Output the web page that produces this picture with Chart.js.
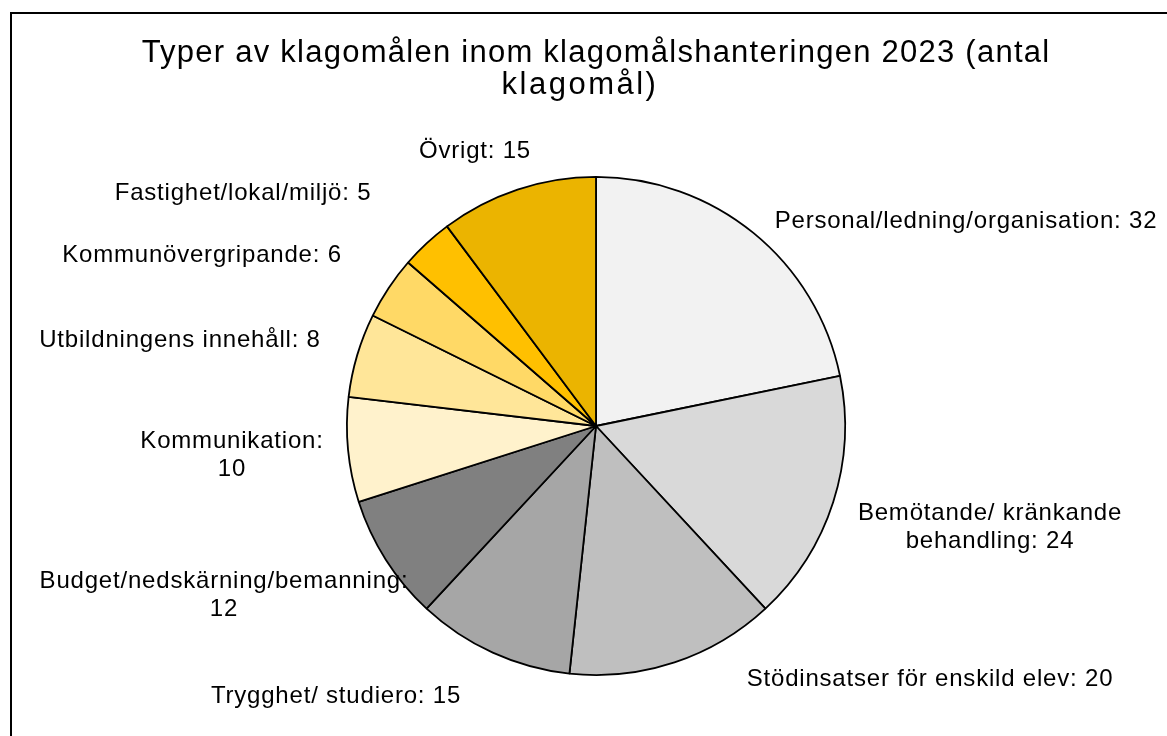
<!DOCTYPE html>
<html>
<head>
<meta charset="utf-8">
<script src="https://cdn.jsdelivr.net/npm/chart.js@4.4.1/dist/chart.umd.min.js"></script>
<style>
html,body{margin:0;padding:0;background:#fff;}
canvas{display:block;}
</style>
</head>
<body>
<canvas id="c" width="1167" height="736"></canvas>
<script>
// ---- data ----
const categories = [
  "Personal/ledning/organisation",
  "Bemötande/ kränkande behandling",
  "Stödinsatser för enskild elev",
  "Trygghet/ studiero",
  "Budget/nedskärning/bemanning",
  "Kommunikation",
  "Utbildningens innehåll",
  "Kommunövergripande",
  "Fastighet/lokal/miljö",
  "Övrigt"
];
const values = [32, 24, 20, 15, 12, 10, 8, 6, 5, 15];
const titleLines = ["Typer av klagomålen inom klagomålshanteringen 2023 (antal", "klagomål)"];

// ---- styles / layout (not data) ----
const colors = ["#F2F2F2","#D9D9D9","#BFBFBF","#A6A6A6","#808080","#FFF2CC","#FFE699","#FFD966","#FFC000","#EBB400"];
// label text line-breaks and centre offsets from pie centre (px)
const labelLines = [
  (c,v)=>[c+": "+v],
  (c,v)=>["Bemötande/ kränkande","behandling: "+v],
  (c,v)=>[c+": "+v],
  (c,v)=>[c+": "+v],
  (c,v)=>[c+":", String(v)],
  (c,v)=>[c+":", String(v)],
  (c,v)=>[c+": "+v],
  (c,v)=>[c+": "+v],
  (c,v)=>[c+": "+v],
  (c,v)=>[c+": "+v]
];
const labelOffsets = [
  [370,-205],[394,101],[334,253],[-260,270],[-372,169],
  [-364,29],[-416,-86],[-394,-171],[-353,-233],[-121,-275]
];

const FONT = '"Liberation Sans", Arial, sans-serif';

const labelPlugin = {
  id: 'labels',
  afterDraw(chart) {
    const ctx = chart.ctx;
    const meta = chart.getDatasetMeta(0);
    const arc0 = meta.data[0];
    const cx = arc0.x, cy = arc0.y;
    ctx.save();
    // frame
    ctx.strokeStyle = '#000';
    ctx.lineWidth = 2;
    ctx.beginPath();
    ctx.moveTo(11, 737);
    ctx.lineTo(11, 13);
    ctx.lineTo(1168, 13);
    ctx.stroke();
    // title
    ctx.fillStyle = '#000';
    ctx.textAlign = 'center';
    ctx.textBaseline = 'alphabetic';
    ctx.font = '31px ' + FONT;
    ctx.letterSpacing = '1.25px';
    ctx.fillText(titleLines[0], 596, 62);
    ctx.letterSpacing = '2.5px';
    ctx.fillText(titleLines[1], 580, 94);
    // labels
    ctx.font = '24px ' + FONT;
    ctx.letterSpacing = '0.8px';
    ctx.textBaseline = 'middle';
    const lh = 28;
    meta.data.forEach((arc, i) => {
      const lines = labelLines[i](categories[i], values[i]);
      const bx = cx + labelOffsets[i][0];
      const by = cy + labelOffsets[i][1];
      const y0 = by - (lines.length - 1) * lh / 2;
      lines.forEach((t, k) => ctx.fillText(t, bx, y0 + k * lh));
    });
    ctx.restore();
  }
};

new Chart(document.getElementById('c'), {
  type: 'pie',
  data: {
    labels: categories,
    datasets: [{
      data: values,
      backgroundColor: colors,
      borderColor: '#000',
      borderWidth: 1.8
    }]
  },
  options: {
    responsive: false,
    animation: false,
    layout: { padding: { top: 176, bottom: 60, left: 346, right: 321 } },
    plugins: {
      legend: { display: false },
      title: { display: false },
      tooltip: { enabled: false }
    }
  },
  plugins: [labelPlugin]
});
</script>
</body>
</html>
